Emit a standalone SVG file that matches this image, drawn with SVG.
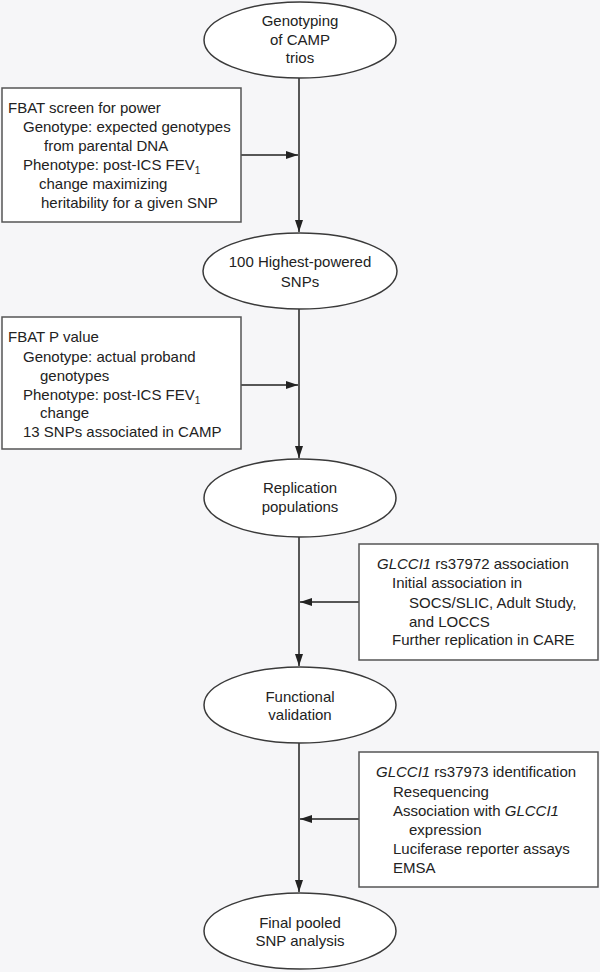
<svg xmlns="http://www.w3.org/2000/svg" width="600" height="972" viewBox="0 0 600 972">
<style>
.bg{fill:#f6f6f8}
.node{fill:#ffffff;stroke:#3a3a3a;stroke-width:1.5}
.box{fill:#ffffff;stroke:#555555;stroke-width:1.5}
.t{font-family:"Liberation Sans",Arial,sans-serif;font-size:15px;fill:#222222}
.c{text-anchor:middle}
.i{font-style:italic}
.sub{font-size:10px}
.edge{stroke:#222222;stroke-width:1.5;fill:none}
</style>
<defs>
<marker id="ah" markerWidth="12" markerHeight="8" refX="12" refY="4" orient="auto" markerUnits="userSpaceOnUse">
<path d="M0,0 L12,4 L0,8 Z" fill="#222222"/>
</marker>
</defs>
<rect class="bg" x="0" y="0" width="600" height="972"/>
<g id="connectors">
<line class="edge" x1="299" y1="78" x2="299" y2="232" marker-end="url(#ah)"/>
<line class="edge" x1="241" y1="155" x2="298" y2="155" marker-end="url(#ah)"/>
<line class="edge" x1="299" y1="309" x2="299" y2="458" marker-end="url(#ah)"/>
<line class="edge" x1="241" y1="385" x2="298" y2="385" marker-end="url(#ah)"/>
<line class="edge" x1="299" y1="537" x2="299" y2="666" marker-end="url(#ah)"/>
<line class="edge" x1="359" y1="602" x2="300" y2="602" marker-end="url(#ah)"/>
<line class="edge" x1="299" y1="743" x2="299" y2="892" marker-end="url(#ah)"/>
<line class="edge" x1="359" y1="819" x2="300" y2="819" marker-end="url(#ah)"/>
</g>
<g id="n1">
<ellipse class="node" cx="300" cy="40" rx="96" ry="38"/>
<text class="t c" x="300" y="26">Genotyping</text>
<text class="t c" x="300" y="45">of CAMP</text>
<text class="t c" x="300" y="63">trios</text>
</g>
<g id="b1">
<rect class="box" x="2" y="88" width="239" height="134"/>
<text class="t" x="8" y="113">FBAT screen for power</text>
<text class="t" x="23" y="132">Genotype: expected genotypes</text>
<text class="t" x="44" y="151">from parental DNA</text>
<text class="t" x="23" y="170">Phenotype: post-ICS FEV<tspan class="sub" dy="4">1</tspan></text>
<text class="t" x="39" y="189">change maximizing</text>
<text class="t" x="41" y="208">heritability for a given SNP</text>
</g>
<g id="n2">
<ellipse class="node" cx="300" cy="271" rx="97" ry="38"/>
<text class="t c" x="300" y="267">100 Highest-powered</text>
<text class="t c" x="300" y="287">SNPs</text>
</g>
<g id="b2">
<rect class="box" x="2" y="317" width="239" height="132"/>
<text class="t" x="8" y="342">FBAT P value</text>
<text class="t" x="23" y="362">Genotype: actual proband</text>
<text class="t" x="40" y="381">genotypes</text>
<text class="t" x="23" y="400">Phenotype: post-ICS FEV<tspan class="sub" dy="4">1</tspan></text>
<text class="t" x="40" y="418">change</text>
<text class="t" x="23" y="437">13 SNPs associated in CAMP</text>
</g>
<g id="n3">
<ellipse class="node" cx="300" cy="498" rx="96" ry="39"/>
<text class="t c" x="300" y="493">Replication</text>
<text class="t c" x="300" y="512">populations</text>
</g>
<g id="b3">
<rect class="box" x="359" y="544" width="239" height="116"/>
<text class="t" x="377" y="569"><tspan class="i">GLCCI1</tspan> rs37972 association</text>
<text class="t" x="392" y="588">Initial association in</text>
<text class="t" x="409" y="608">SOCS/SLIC, Adult Study,</text>
<text class="t" x="409" y="627">and LOCCS</text>
<text class="t" x="392" y="645">Further replication in CARE</text>
</g>
<g id="n4">
<ellipse class="node" cx="300" cy="705" rx="96" ry="38"/>
<text class="t c" x="300" y="702">Functional</text>
<text class="t c" x="300" y="720">validation</text>
</g>
<g id="b4">
<rect class="box" x="359" y="752" width="239" height="135"/>
<text class="t" x="376" y="777"><tspan class="i">GLCCI1</tspan> rs37973 identification</text>
<text class="t" x="393" y="797">Resequencing</text>
<text class="t" x="393" y="816">Association with <tspan class="i">GLCCI1</tspan></text>
<text class="t" x="409" y="835">expression</text>
<text class="t" x="393" y="854">Luciferase reporter assays</text>
<text class="t" x="393" y="873">EMSA</text>
</g>
<g id="n5">
<ellipse class="node" cx="300" cy="931" rx="96" ry="38"/>
<text class="t c" x="300" y="928">Final pooled</text>
<text class="t c" x="300" y="946">SNP analysis</text>
</g>
</svg>
